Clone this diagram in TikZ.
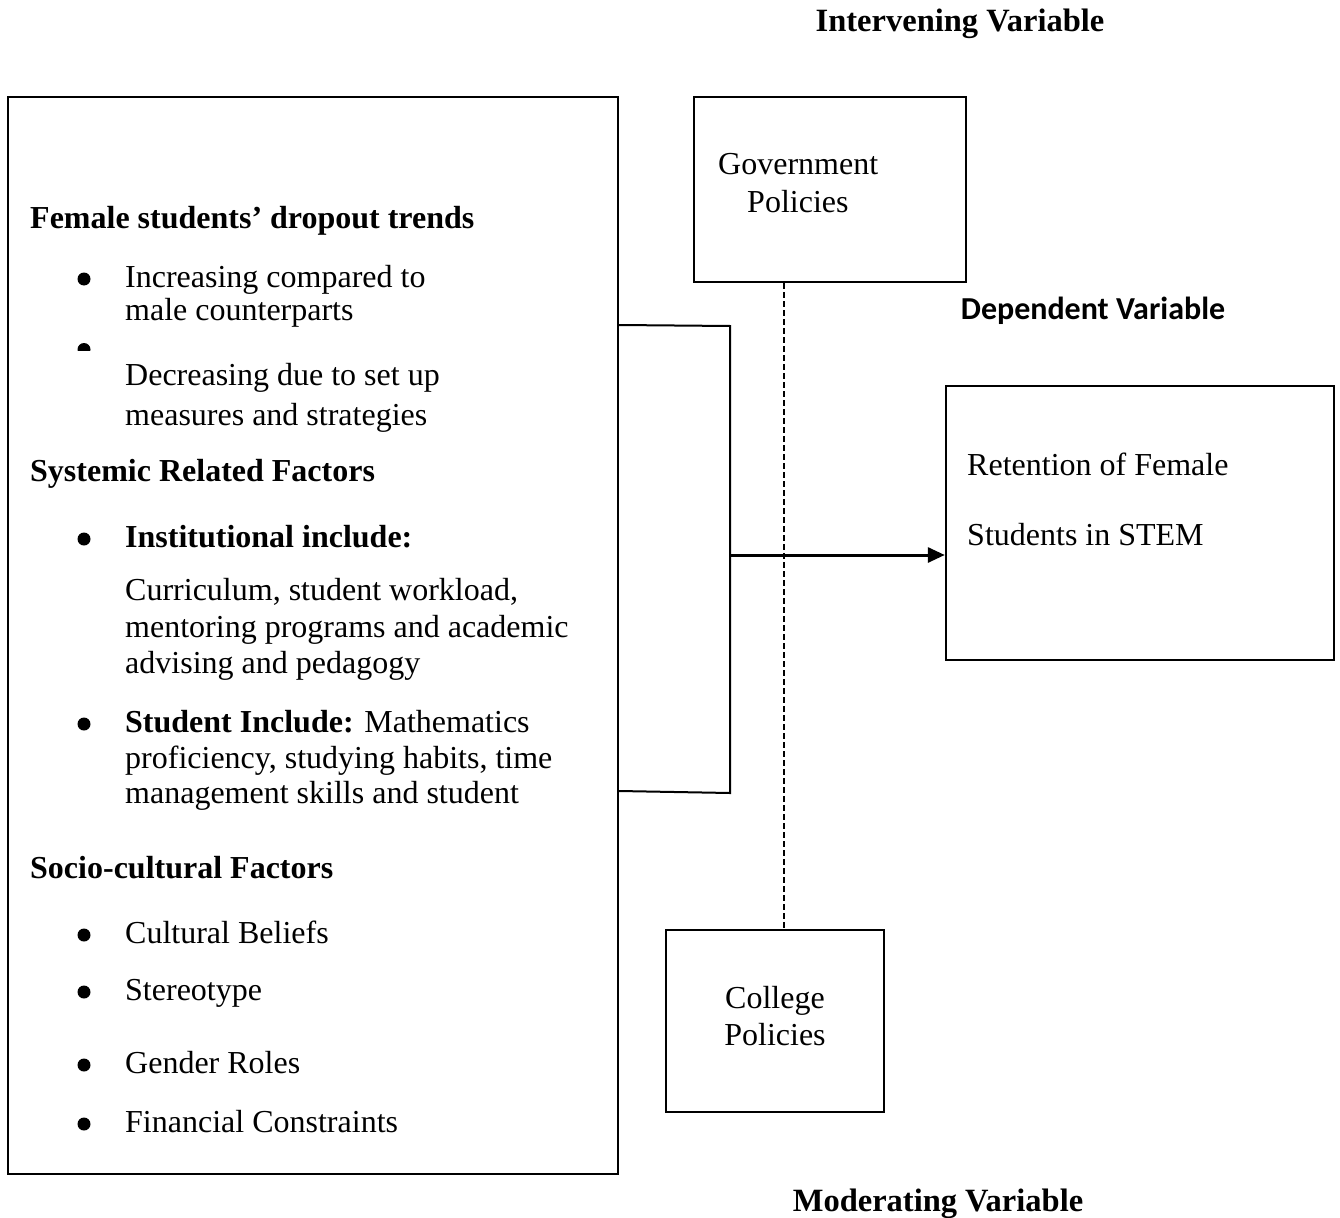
\documentclass[tikz,border=0pt]{standalone}
\usepackage{fontspec}
\setmainfont{Liberation Serif}
\newfontfamily\calibrif{Carlito}
\usetikzlibrary{arrows.meta}
\tikzset{
  box/.style={draw, line width=2.4pt, rectangle, inner sep=0pt},
  txt/.style={anchor=base west, inner sep=0pt, font=\fontsize{32}{36}\selectfont},
  ctxt/.style={anchor=base, inner sep=0pt, font=\fontsize{32}{36}\selectfont},
  btxt/.style={anchor=base west, inner sep=0pt, font=\fontsize{32}{36}\selectfont\bfseries},
  bul/.style={circle, fill=black, inner sep=0pt, minimum size=13pt},
  link/.style={line width=2pt},
  dashline/.style={line width=2pt, dash pattern=on 6pt off 3pt},
  arr/.style={line width=3pt, -{Triangle[length=17pt,width=15pt]}}
}
\begin{document}
\begin{tikzpicture}[x=1pt,y=-1pt]
\useasboundingbox (0,0) rectangle (1340,1217);
% boxes
\node[box, minimum width=610pt, minimum height=1077pt] (left) at (313,635.5) {};
\node[box, minimum width=272pt, minimum height=185pt] (gov) at (830,189.5) {};
\node[box, minimum width=218pt, minimum height=182pt] (col) at (775,1021) {};
\node[box, minimum width=388pt, minimum height=274pt] (ret) at (1140,523) {};
% headings
\node[ctxt, font=\fontsize{32.5}{36}\selectfont\bfseries] (iv) at (960,32) {Intervening Variable};
\node[ctxt, font=\fontsize{32.5}{36}\selectfont\bfseries] (mv) at (938,1211) {Moderating Variable};
\node[ctxt, font=\fontsize{32}{36}\calibrif\bfseries] (dv) at (1093,319) {Dependent Variable};
% left box text
\node[btxt] (h1) at (30,228) {Female students’ dropout trends};
\node[bul] (b1) at (84,279) {};
\node[txt] (t1a) at (125,287) {Increasing compared to};
\node[txt] (t1b) at (125,320) {male counterparts};
\coordinate (b2) at (84,349.5);
\begin{scope}
  \clip (70,330) rectangle (100,350.5);
  \fill (b2) circle (6.5);
\end{scope}
\node[txt] (t2a) at (125,385) {Decreasing due to set up};
\node[txt] (t2b) at (125,425) {measures and strategies};
\node[btxt] (h2) at (30,481) {Systemic Related Factors};
\node[bul] (b3) at (84,539) {};
\node[btxt] (t3a) at (125,547) {Institutional include:};
\node[txt] (t3b) at (125,600) {Curriculum, student workload,};
\node[txt] (t3c) at (125,637) {mentoring programs and academic};
\node[txt] (t3d) at (125,673) {advising and pedagogy};
\node[bul] (b4) at (84,724) {};
\node[txt] (t4a) at (125,732) {\textbf{Student Include:} Mathematics};
\node[txt] (t4b) at (125,768) {proficiency, studying habits, time};
\node[txt] (t4c) at (125,803) {management skills and student};
\node[btxt] (h3) at (30,878) {Socio-cultural Factors};
\node[bul] (b5) at (84,935) {};
\node[txt] (t5) at (125,943) {Cultural Beliefs};
\node[bul] (b6) at (84,992) {};
\node[txt] (t6) at (125,1000) {Stereotype};
\node[bul] (b7) at (84,1065) {};
\node[txt] (t7) at (125,1073) {Gender Roles};
\node[bul] (b8) at (84,1124) {};
\node[txt] (t8) at (125,1132) {Financial Constraints};
% other box texts
\node[txt] (g1) at (718,175) {Government};
\node[txt] (g2) at (747,212) {Policies};
\node[ctxt] (c1) at (775,1008) {College};
\node[ctxt] (c2) at (775,1045) {Policies};
\node[txt] (r1) at (967,475) {Retention of Female};
\node[txt] (r2) at (967,545) {Students in STEM};
% connectors
\coordinate (bt) at (730,326);
\coordinate (bb) at (730,793);
\coordinate (bm) at (730,555);
\coordinate (dx) at (784,0);
\draw[link] (left.east |- 0,325) -- (bt) -- (bb) -- (left.east |- 0,791);
\draw[dashline] (gov.south -| dx) -- (col.north -| dx);
\draw[arr] (bm) -- (ret.west |- bm);
\end{tikzpicture}
\end{document}
